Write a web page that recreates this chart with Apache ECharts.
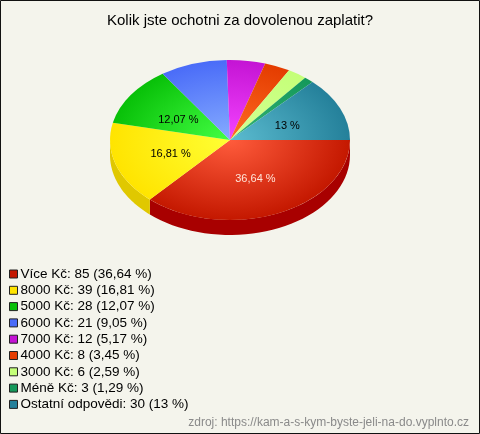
<!DOCTYPE html>
<html>
<head>
<meta charset="utf-8">
<script src="https://cdn.jsdelivr.net/npm/echarts@6/dist/echarts.min.js"></script>
<style>
  html, body { margin: 0; padding: 0; background: #f4f4ec; }
  #chart { width: 480px; height: 434px; }
</style>
</head>
<body>
<div id="chart"></div>
<script>
var categories = ['Více Kč', '8000 Kč', '5000 Kč', '6000 Kč', '7000 Kč', '4000 Kč', '3000 Kč', 'Méně Kč', 'Ostatní odpovědi'];
var values = [85, 39, 28, 21, 12, 8, 6, 3, 30];
var percents = [36.64, 16.81, 12.07, 9.05, 5.17, 3.45, 2.59, 1.29, 13];
// legend / edge colour, lighter centre colour, side colour
var edgeColors = ['#c41800', '#ffe400', '#08c008', '#4a6cf8', '#c414d4', '#e43c00', '#c4ff78', '#14985a', '#24809a'];
var centerColors = ['#ff5c3c', '#ffff34', '#44ff44', '#86acff', '#f444ff', '#ff6c24', '#d4ff94', '#34b474', '#5cbcd0'];
var sideColors = ['#a80000', '#e0c800', '#009000', '#3050c0', '#9000a0', '#b02800', '#a0d060', '#007040', '#106070'];

var cx = 230, cy = 140, rx = 120, ry = 80, depth = 15;
var font = 'Arial, "Liberation Sans"';

var total = values.reduce(function (a, b) { return a + b; }, 0);
var startAngles = [], acc = 0;
for (var i = 0; i < values.length; i++) {
    startAngles.push(acc / total * Math.PI * 2);
    acc += values[i];
}

var fmtPct = function (p) {
    return String(p).replace('.', ',') + ' %';
};

var renderSlice = function (params, api) {
    var idx = params.seriesIndex;
    var a0 = startAngles[idx];
    var a1 = a0 + api.value(0) / total * Math.PI * 2;
    var children = [];

    // front wall (only the part facing the viewer, 0..PI)
    var s0 = Math.max(a0, 0), s1 = Math.min(a1, Math.PI);
    if (s1 > s0) {
        var pts = [], n = 40, k, a;
        for (k = 0; k <= n; k++) {
            a = s0 + (s1 - s0) * k / n;
            pts.push([cx + rx * Math.cos(a), cy + ry * Math.sin(a)]);
        }
        for (k = n; k >= 0; k--) {
            a = s0 + (s1 - s0) * k / n;
            pts.push([cx + rx * Math.cos(a), cy + ry * Math.sin(a) + depth]);
        }
        children.push({
            type: 'polygon',
            z2: 1,
            shape: { points: pts },
            style: { fill: sideColors[idx] }
        });
    }

    // top face: a circular sector squashed to an ellipse
    children.push({
        type: 'group',
        x: cx,
        y: cy,
        scaleY: ry / rx,
        children: [{
            type: 'sector',
            z2: 2,
            shape: { cx: 0, cy: 0, r0: 0, r: rx, startAngle: a0, endAngle: a1, clockwise: true },
            style: {
                fill: new echarts.graphic.RadialGradient(0, 0, rx, [
                    { offset: 0, color: centerColors[idx] },
                    { offset: 1, color: edgeColors[idx] }
                ], true)
            }
        }]
    });

    if (percents[idx] >= 10) {
        var mid = (a0 + a1) / 2;
        children.push({
            type: 'text',
            z2: 3,
            x: cx + rx * 0.52 * Math.cos(mid),
            y: cy + ry * 0.5 * Math.sin(mid) + 2,
            style: {
                text: fmtPct(percents[idx]),
                textAlign: 'center',
                textVerticalAlign: 'middle',
                fontSize: 11,
                fontFamily: font,
                fill: idx === 0 ? '#ffe4d8' : '#000'
            }
        });
    }
    return { type: 'group', children: children };
};

var series = categories.map(function (name, i) {
    return {
        type: 'custom',
        name: name,
        coordinateSystem: 'none',
        silent: true,
        animation: false,
        itemStyle: { color: edgeColors[i] },
        renderItem: renderSlice,
        data: [[values[i]]]
    };
});

var chart = echarts.init(document.getElementById('chart'));
chart.setOption({
    backgroundColor: '#f4f4ec',
    animation: false,
    title: [{
        text: 'Kolik jste ochotni za dovolenou zaplatit?',
        left: 'center',
        top: 13,
        padding: 0,
        textStyle: { fontSize: 15, fontWeight: 'normal', color: '#000', fontFamily: font }
    }, {
        text: 'zdroj: https://kam-a-s-kym-byste-jeli-na-do.vyplnto.cz',
        right: 11,
        bottom: 5,
        padding: 0,
        textStyle: { fontSize: 12, fontWeight: 'normal', color: '#8a8a8a', fontFamily: font }
    }],
    legend: {
        orient: 'vertical',
        left: 9,
        top: 267,
        padding: 0,
        icon: 'rect',
        itemWidth: 8,
        itemHeight: 8,
        itemGap: 2.3,
        selectedMode: false,
        itemStyle: { borderColor: '#222', borderWidth: 1 },
        data: categories,
        textStyle: { fontSize: 13.5, color: '#000', fontFamily: font, padding: [0, 0, 0, -2] },
        formatter: function (name) {
            var i = categories.indexOf(name);
            return name + ': ' + values[i] + ' (' + fmtPct(percents[i]) + ')';
        }
    },
    graphic: [{
        type: 'rect',
        silent: true,
        shape: { x: 0.5, y: 0.5, width: 479, height: 433 },
        style: { fill: null, stroke: '#111', lineWidth: 1 }
    }],
    series: series
});
</script>
</body>
</html>
